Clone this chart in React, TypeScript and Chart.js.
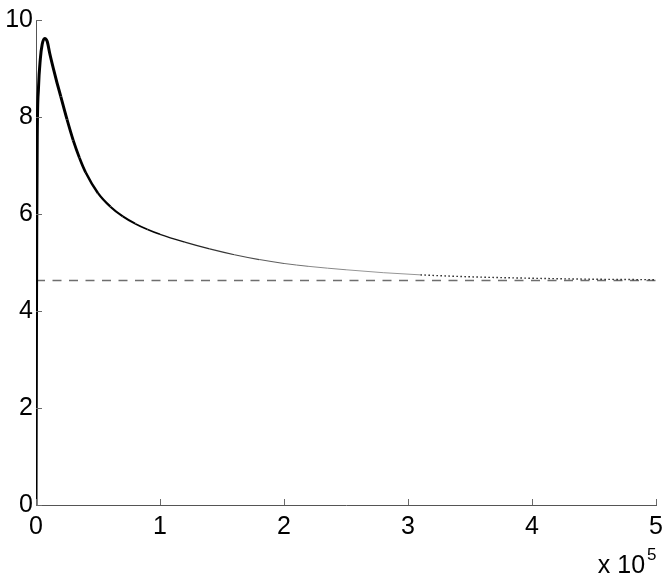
import React, { useEffect, useRef } from "react";
import { Chart, registerables } from "chart.js";

Chart.register(...registerables);

// x values in raw units (axis shows them divided by 1e5)
const X_VALUES = [
  0, 400, 600, 1000, 2000, 3500, 5000, 7000, 9000, 11000, 14000, 17000, 20000,
  25000, 30000, 35000, 40000, 50000, 60000, 70000, 80000, 90000, 100000, 120000,
  140000, 160000, 180000, 200000, 220000, 250000, 280000, 310000, 350000, 400000,
  450000, 500000,
];
const Y_VALUES = [
  0, 4.0, 5.7, 7.6, 8.6, 9.2, 9.5, 9.62, 9.56, 9.32, 9.0, 8.7, 8.42, 7.95, 7.52,
  7.16, 6.86, 6.43, 6.15, 5.95, 5.8, 5.68, 5.58, 5.42, 5.28, 5.16, 5.06, 4.98,
  4.92, 4.85, 4.79, 4.745, 4.705, 4.675, 4.655, 4.645,
];
const ASYMPTOTE = 4.63;
const X_TICKS = [0, 1, 2, 3, 4, 5]; // in units of 10^5
const Y_TICKS = [0, 2, 4, 6, 8, 10];
const X_SCALE_FACTOR = 100000;

const FONT = '"Liberation Sans", Arial, Helvetica, sans-serif';

const decorPlugin = {
  id: "decor",
  afterDraw(chart: any) {
    const { ctx, chartArea, scales } = chart;
    const xs = scales.x;
    const ys = scales.y;
    ctx.save();
    ctx.strokeStyle = "#6a6a6a";
    ctx.lineWidth = 1;
    for (const v of Y_TICKS) {
      const py = Math.round(ys.getPixelForValue(v)) + 0.5;
      ctx.beginPath();
      ctx.moveTo(chartArea.left, py);
      ctx.lineTo(chartArea.left + 6, py);
      ctx.stroke();
    }
    for (const v of X_TICKS) {
      const px = Math.round(xs.getPixelForValue(v * X_SCALE_FACTOR)) + 0.5;
      ctx.beginPath();
      ctx.moveTo(px, chartArea.bottom);
      ctx.lineTo(px, chartArea.bottom - 6);
      ctx.stroke();
    }
    ctx.fillStyle = "#000";
    ctx.font = `25px ${FONT}`;
    ctx.textAlign = "right";
    ctx.textBaseline = "alphabetic";
    ctx.fillText("x 10", chartArea.right - 11, chartArea.bottom + 68);
    ctx.font = `17px ${FONT}`;
    ctx.textAlign = "left";
    ctx.fillText("5", chartArea.right - 9, chartArea.bottom + 55);
    ctx.restore();
  },
};

function lerp(a: number, b: number, t: number) {
  return a + (b - a) * Math.min(1, Math.max(0, t));
}

function widthAt(x: number) {
  if (x < 20000) return 3;
  if (x < 100000) return lerp(3, 1.5, (x - 20000) / 80000);
  if (x < 310000) return lerp(1.5, 1, (x - 100000) / 100000);
  return 1.4;
}

function colorAt(x: number) {
  if (x >= 310000) return "#222";
  let g = 0;
  if (x >= 90000) g = lerp(0, 150, (x - 90000) / 160000);
  const h = Math.round(g);
  return `rgb(${h},${h},${h})`;
}

export default function App() {
  const ref = useRef<HTMLCanvasElement | null>(null);

  useEffect(() => {
    if (!ref.current) return;
    const curve = X_VALUES.map((x, i) => ({ x, y: Y_VALUES[i] }));
    const asym = [
      { x: X_TICKS[0] * X_SCALE_FACTOR, y: ASYMPTOTE },
      { x: X_TICKS[X_TICKS.length - 1] * X_SCALE_FACTOR, y: ASYMPTOTE },
    ];
    const chart = new Chart(ref.current, {
      type: "line",
      data: {
        datasets: [
          {
            data: curve,
            borderColor: "#000",
            borderWidth: 2,
            pointRadius: 0,
            cubicInterpolationMode: "monotone",
            fill: false,
            order: 0,
            segment: {
              borderWidth: (c: any) => widthAt((c.p0.parsed.x + c.p1.parsed.x) / 2),
              borderColor: (c: any) => colorAt((c.p0.parsed.x + c.p1.parsed.x) / 2),
              borderDash: (c: any) => (c.p0.parsed.x >= 310000 ? [1.5, 2.5] : []),
            },
          } as any,
          {
            data: asym,
            borderColor: "#6e6e6e",
            borderWidth: 1.6,
            borderDash: [9, 7.5],
            pointRadius: 0,
            fill: false,
            order: 1,
          },
        ],
      },
      options: {
        animation: false,
        responsive: false,
        layout: { padding: { top: 20, right: 13, left: 0, bottom: 0 } },
        plugins: {
          legend: { display: false },
          tooltip: { enabled: false },
        },
        scales: {
          x: {
            type: "linear",
            min: X_TICKS[0] * X_SCALE_FACTOR,
            max: X_TICKS[X_TICKS.length - 1] * X_SCALE_FACTOR,
            grid: { display: false, drawTicks: false },
            border: { display: true, color: "#555", width: 1 },
            ticks: {
              stepSize: X_SCALE_FACTOR,
              padding: 7,
              color: "#000",
              font: { family: FONT, size: 25 },
              maxRotation: 0,
              callback: (v: any) => String(Number(v) / X_SCALE_FACTOR),
            },
            afterFit: (s: any) => {
              s.height = 72;
            },
          },
          y: {
            type: "linear",
            min: Y_TICKS[0],
            max: Y_TICKS[Y_TICKS.length - 1],
            grid: { display: false, drawTicks: false },
            border: { display: true, color: "#555", width: 1 },
            ticks: {
              stepSize: 2,
              padding: 3,
              color: "#000",
              font: { family: FONT, size: 25 },
            },
            afterFit: (s: any) => {
              s.width = 36;
            },
          },
        },
      },
      plugins: [decorPlugin],
    });
    return () => chart.destroy();
  }, []);

  return (
    <div style={{ position: "fixed", left: 0, top: 0, width: 670, height: 577, background: "#fff" }}>
      <canvas ref={ref} width={670} height={577} style={{ display: "block" }} />
    </div>
  );
}
